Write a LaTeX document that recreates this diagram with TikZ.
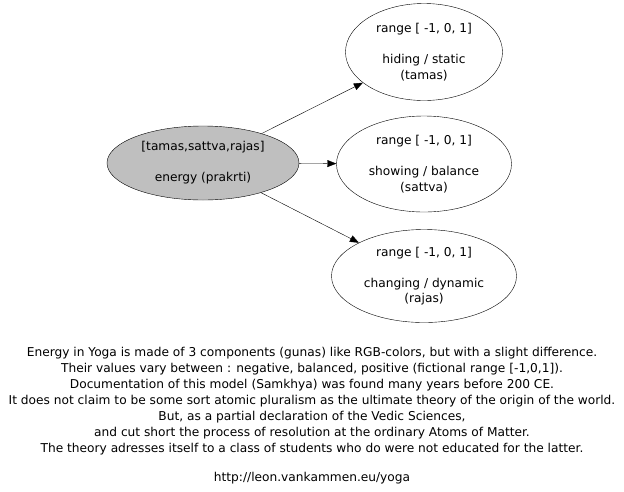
\documentclass[tikz,border=0pt]{standalone}
\usepackage{fontspec}
\setmainfont{DejaVu Sans}
\usetikzlibrary{shapes.geometric,arrows.meta}

\tikzset{
  guna/.style={draw,ellipse,inner sep=0pt,align=center,font=\fontsize{12.2}{15.5}\selectfont},
  note/.style={align=center,font=\fontsize{12.2}{16}\selectfont}
}

\begin{document}
\begin{tikzpicture}[x=1pt,y=-1pt,>={Triangle[length=9pt,width=7pt]}]
  \useasboundingbox (0,0) rectangle (624,491);
  \node[guna,fill=black!25,minimum width=192pt,minimum height=74pt] (energy) at (203,163)
    {[tamas,sattva,rajas]\\[15.5pt] energy (prakrti)};
  \node[guna,minimum width=157pt,minimum height=97pt] (tamas) at (424,52)
    {range [ -1, 0, 1]\\[15.5pt] hiding / static\\(tamas)};
  \node[guna,minimum width=175pt,minimum height=96pt] (sattva) at (424,164)
    {range [ -1, 0, 1]\\[15.5pt] showing / balance\\(sattva)};
  \node[guna,minimum width=185pt,minimum height=93pt] (rajas) at (424,276)
    {range [ -1, 0, 1]\\[15.5pt] changing / dynamic\\(rajas)};
  \draw[->] (energy) -- (tamas);
  \draw[->] (energy) -- (sattva);
  \draw[->] (energy) -- (rajas);
  % caption under the graph
  \node[note] (caption) at (312,415.5) {Energy in Yoga is made of 3 components (gunas) like RGB-colors, but with a slight difference.\\
    Their values vary between : negative, balanced, positive (fictional range [-1,0,1]).\\
    Documentation of this model (Samkhya) was found many years before 200 CE.\\
    It does not claim to be some sort atomic pluralism as the ultimate theory of the origin of the world.\\
    But, as a partial declaration of the Vedic Sciences,\\
    and cut short the process of resolution at the ordinary Atoms of Matter.\\
    The theory adresses itself to a class of students who do were not educated for the latter.\\[13pt]
    http://leon.vankammen.eu/yoga};
\end{tikzpicture}
\end{document}
